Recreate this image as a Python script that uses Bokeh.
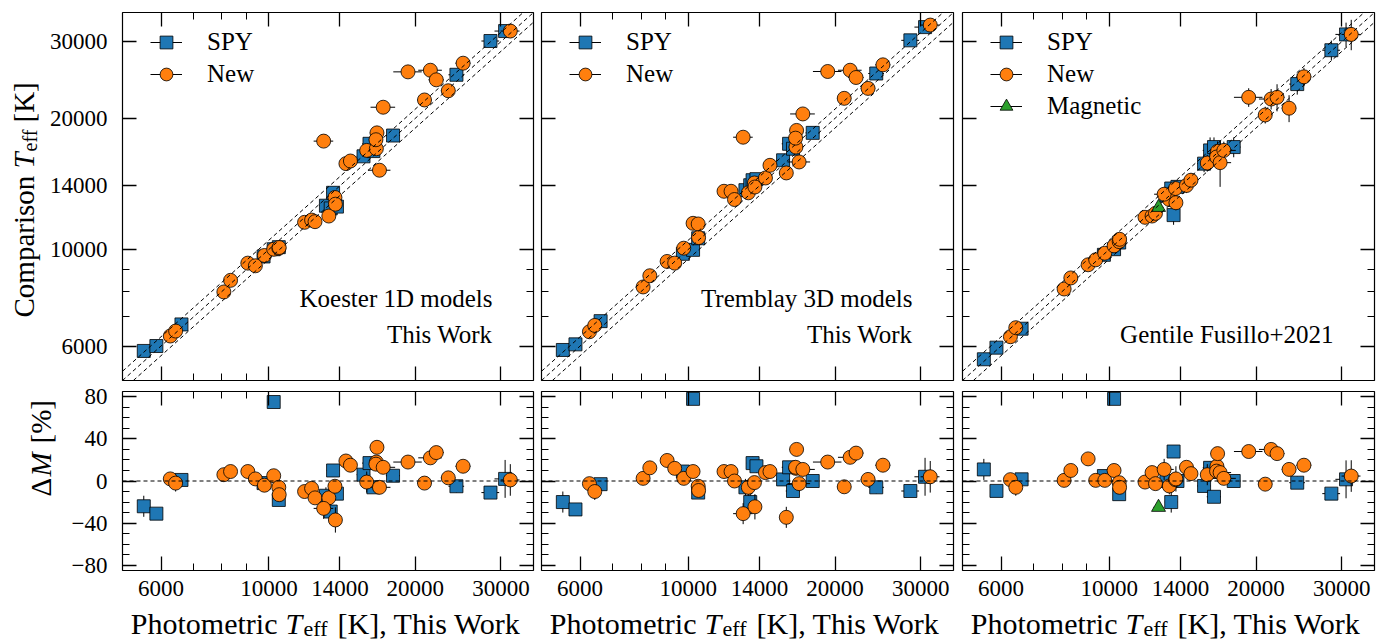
import numpy as np
from bokeh.plotting import figure
from bokeh.models import (FixedTicker, BasicTickFormatter, LogAxis, LinearAxis, Span, Slope,
                          Label, Legend, LegendItem, ColumnDataSource, Range1d)
from bokeh.layouts import row, column
from bokeh.embed import file_html
from bokeh.resources import INLINE

# ---------------- data ----------------
# photometric Teff (This Work), shared by all panels
spy_teff_phot = [5530, 5870, 6610, 9750, 10230, 10480, 13100, 13400, 13550, 13800,
                 15650, 16100, 16400, 18000, 24300, 28550, 30600]
spy_teff_phot_err = [150, 150, 200, 250, 300, 300, 400, 400, 400, 400,
                     500, 550, 550, 600, 900, 1200, 1500]
new_teff_phot = [6270, 6430, 8080, 8340, 9050, 9380, 9790, 10230, 10480, 10500,
                 11840, 12240, 12440, 13280, 12960, 13670, 13700, 14400, 14710, 15890,
                 16630, 16680, 16600, 16880, 17180, 19320, 20890, 21480, 22090, 23380,
                 25080, 31360]
new_teff_phot_err = [150, 150, 200, 200, 250, 250, 250, 300, 300, 300,
                     350, 350, 350, 400, 600, 400, 400, 450, 450, 500,
                     550, 550, 550, 900, 1000, 1300, 700, 1200, 800, 800,
                     900, 1400]
mag_teff_phot = [12620]
mag_teff_phot_err = [300]

# comparison Teff, Koester 1D (This Work)
koester_spy = [5846, 6000, 6726, 9634, 10010, 10120, 12600, 12420, 13490, 12540,
               16360, 17480, 16820, 18260, 25180, 30100, 31730]
koester_new = [6326, 6494, 7986, 8491, 9300, 9170, 9685, 10010, 10060, 10100,
               11540, 11680, 11580, 11930, 17730, 13160, 12700, 15740, 15960, 16880,
               17030, 18520, 17860, 15200, 21210, 25570, 22040, 25790, 24520, 23140,
               26770, 31730]
# comparison Teff, Tremblay 3D (This Work)
tremblay_spy = [5876, 6053, 6844, 9770, 9977, 10607, 13680, 14040, 14420, 14500,
                16020, 17480, 17030, 18520, 25350, 30210, 32400]
tremblay_new = [6470, 6690, 8200, 8700, 9383, 9300, 10065, 11480, 11440, 10645,
                13600, 13600, 13020, 13490, 18100, 14210, 13910, 14590, 15600, 14985,
                17180, 18760, 18010, 15880, 20470, 25620, 22230, 25790, 24820, 23430,
                26540, 32750]
spec_spy_err = [90, 90, 100, 150, 150, 160, 200, 200, 200, 200,
                250, 260, 260, 280, 400, 450, 500]
spec_new_err = [100, 100, 120, 130, 140, 140, 150, 160, 160, 160,
                180, 180, 180, 200, 300, 200, 200, 220, 220, 250,
                260, 260, 260, 300, 330, 400, 350, 400, 380, 360,
                420, 500]
# comparison Teff, Gentile Fusillo+2021
gf21_spy = [5594, 5948, 6575, 9718, 10012, 10370, 13300, 13800, 11990, 13920,
            15740, 16880, 17180, 17180, 23970, 28670, 31170]
gf21_new = [6303, 6610, 8112, 8600, 9220, 9465, 9800, 10190, 10420, 10550,
            11850, 11930, 12100, 13020, 13390, 13800, 12800, 14020, 14420, 15790,
            16530, 16800, 16300, 15820, 16880, 22350, 20360, 22150, 22350, 21100,
            24910, 31170]
gf21_mag = [12490]
gf21_spy_err = [150, 150, 200, 300, 300, 350, 500, 500, 600, 500,
                700, 1200, 900, 900, 1300, 1500, 2000]
gf21_new_err = [150, 200, 250, 250, 300, 300, 300, 350, 350, 350,
                400, 400, 400, 500, 500, 500, 500, 550, 550, 700,
                900, 900, 900, 1900, 800, 1100, 900, 1200, 1600, 1500,
                1200, 2500]
gf21_mag_err = [250]

# Delta M [%]
dm_koester_spy = [-24, -31, 1, -2, 75, -18, -14, -29, 10, -12, 6, 17, -6, 5, -5, -11, 2]
dm_koester_new = [2, -2, 6, 9, 9, 2, -4, 5, -6, -13, -10, -7, -16, -16, -26, -5, -37,
                  19, 15, -1, 18, 32, 16, -6, 13, 18, -2, 22, 27, 3, 14, 1]
dm_tremblay_spy = [-20, -27, -3, 9, 78, -11, -6, -20, 17, 14, 1.5, 13, -9.5, 0, -6, -9.5, 4]
dm_tremblay_new = [-2.5, -10, 2.5, 12.5, 19.5, 12, 2.5, 9, -5, -9, 9, 9, 0, -6, -31, -1.5,
                   -24.5, 8, 9, -34.5, 12, 30, 13, -2.5, 11, 18, -5.5, 22.5, 26.5, 1.5, 15, 4]
dm_gf21_spy = [11, -9.4, 1.6, 4.7, 78, -12.5, 0, -20, 28, 0, -4.7, 12.5, -15, 0, -1.6, -12, 1.6]
dm_gf21_new = [1.3, -6, 0.6, 10, 21, 0.6, 0.6, 10, -1.6, -6, -1, 8, -2.5, -4.7, 11, 1.3, 2,
               13, 7, 6, 14, 26, 9.4, 8, 2.5, 28, -3, 30, 26, 11, 15, 4.7]
dm_gf21_mag = [-25]
dm_spy_err = [10, 5, 4, 4, 5, 5, 8, 10, 6, 6, 5, 6, 5, 5, 6, 5, 18]
dm_new_err = [4, 8, 3, 3, 3, 3, 4, 4, 4, 4, 5, 5, 5, 8, 10, 6, 12, 5, 5, 10,
              5, 6, 5, 6, 5, 6, 6, 6, 6, 6, 6, 15]
dm_mag_err = [3]

# axes / ticks
T_RANGE = (5000, 35000)
DM_RANGE = (-85, 85)
t_major = [6000, 10000, 14000, 20000, 30000]
t_minor = [7000, 8000, 9000]
t_labels = ["6000", "10000", "14000", "20000", "30000"]
dm_major = [-80, -40, 0, 40, 80]
dm_minor = [-70, -60, -50, -30, -20, -10, 10, 20, 30, 50, 60, 70]
dm_labels = ["\u221280", "\u221240", "0", "40", "80"]
band_ratios = [0.95, 1.0, 1.05]

panel_notes = [["Koester 1D models", "This Work"],
               ["Tremblay 3D models", "This Work"],
               ["Gentile Fusillo+2021"]]

# ---------------- style / layout ----------------
FONT = "Liberation Serif"
BLUE, ORANGE, GREEN = "#1f77b4", "#ff7f0e", "#2ca02c"
FRAME_LEFT = [122, 541, 962]          # absolute x of each frame's left edge
FW = [411, 412, 412]
YLAB_TOP_W, YLAB_BOT_W = 46, 60
LEFT_TOP = [122 - YLAB_TOP_W, 4, 5]
LEFT_BOT = [122 - YLAB_BOT_W, 4, 5]
RIGHT = [4, 4, 13]
TOP_B, TOP_FH, TOP_BB = 12, 368, 1      # row 1: 0..381
BOT_T, BOT_FH, BOT_B = 10, 179, 37      # row 2: 381..607
XLAB_H = 34                             # row 3: 607..641
TOP_ROW_H = TOP_B + TOP_FH + TOP_BB
BOT_ROW_H = BOT_T + BOT_FH + BOT_B


def style_axis(ax, show, ticks, minor, labels, standoff):
    ax.ticker = FixedTicker(ticks=ticks, minor_ticks=minor)
    ax.formatter = BasicTickFormatter(use_scientific=False)
    ax.major_tick_in = 14
    ax.major_tick_out = 0
    ax.minor_tick_in = 7
    ax.minor_tick_out = 0
    ax.major_tick_line_width = 1.3
    ax.minor_tick_line_width = 1.0
    ax.major_tick_line_color = "black"
    ax.minor_tick_line_color = "black"
    ax.axis_line_color = None
    if show:
        ax.major_label_overrides = {t: l for t, l in zip(ticks, labels)}
        ax.major_label_text_font = FONT
        ax.major_label_text_font_size = "23px"
        ax.major_label_text_color = "black"
        ax.major_label_standoff = standoff
    else:
        ax.major_label_overrides = {t: "" for t in ticks}
        ax.major_label_text_color = None
        ax.major_label_text_alpha = 0
        ax.major_label_text_font_size = "0px"
        ax.major_label_standoff = 0


def add_text(p, x, y, text, size, italic=False, align="left", angle=0.0):
    p.add_layout(Label(x=x, y=y, x_units="screen", y_units="screen", text=text,
                       text_font=FONT, text_font_size=f"{size}px",
                       text_font_style="italic" if italic else "normal",
                       text_align=align, text_baseline="alphabetic",
                       angle=angle, text_color="black"))


def blank_fig(w, h):
    p = figure(width=w, height=h, title=None, x_range=Range1d(0, 1), y_range=Range1d(0, 1),
               x_axis_location=None, y_axis_location=None, min_border=0,
               min_border_left=0, min_border_right=0, min_border_top=0, min_border_bottom=0,
               output_backend="svg", toolbar_location=None)
    p.grid.visible = False
    p.outline_line_color = None
    p.background_fill_color = "white"
    p.border_fill_color = "white"
    return p


def draw_series(p, x, xerr, y, yerr, marker, color, size):
    x = np.asarray(x, float); xerr = np.asarray(xerr, float)
    y = np.asarray(y, float); yerr = np.asarray(yerr, float)
    h = ColumnDataSource(dict(x0=x - xerr, x1=x + xerr, y0=y, y1=y))
    v = ColumnDataSource(dict(x0=x, x1=x, y0=y - yerr, y1=y + yerr))
    rh = p.segment("x0", "y0", "x1", "y1", source=h, line_color="black", line_width=1)
    p.segment("x0", "y0", "x1", "y1", source=v, line_color="black", line_width=1)
    rm = p.scatter(x, y, marker=marker, size=size, fill_color=color,
                   line_color="black", line_width=0.8)
    return [rh, rm]


def base_fig(col, top):
    if top:
        kw = dict(y_axis_type="log", y_range=Range1d(*T_RANGE), height=TOP_ROW_H,
                  min_border_top=TOP_B, min_border_bottom=TOP_BB,
                  min_border_left=LEFT_TOP[col],
                  width=LEFT_TOP[col] + FW[col] + RIGHT[col])
    else:
        kw = dict(y_range=Range1d(*DM_RANGE), height=BOT_ROW_H,
                  min_border_top=BOT_T, min_border_bottom=BOT_B,
                  min_border_left=LEFT_BOT[col],
                  width=LEFT_BOT[col] + FW[col] + RIGHT[col])
    p = figure(title=None, x_axis_type="log", x_range=Range1d(*T_RANGE),
               min_border_right=RIGHT[col],
               output_backend="svg", toolbar_location=None, **kw)
    p.grid.visible = False
    p.outline_line_color = "black"
    p.outline_line_width = 1.2
    p.background_fill_color = "white"
    p.border_fill_color = "white"
    p.add_layout(LogAxis(), "above")
    if top:
        p.add_layout(LogAxis(), "right")
    else:
        p.add_layout(LinearAxis(), "right")
    for ax in p.xaxis:
        show = (not top) and ax in p.below
        style_axis(ax, show, t_major, t_minor, t_labels, 10)
    for ax in p.yaxis:
        show = (col == 0) and ax in p.left
        if top:
            style_axis(ax, show, t_major, t_minor, t_labels, 15)
        else:
            style_axis(ax, show, dm_major, dm_minor, dm_labels, 15)
    return p


comp_spy = [koester_spy, tremblay_spy, gf21_spy]
comp_new = [koester_new, tremblay_new, gf21_new]
comp_spy_err = [spec_spy_err, spec_spy_err, gf21_spy_err]
comp_new_err = [spec_new_err, spec_new_err, gf21_new_err]
dms_spy = [dm_koester_spy, dm_tremblay_spy, dm_gf21_spy]
dms_new = [dm_koester_new, dm_tremblay_new, dm_gf21_new]

tops, bots = [], []
for c in range(3):
    # ---- top panel ----
    p = base_fig(c, True)
    for g in band_ratios:
        p.add_layout(Slope(gradient=g, y_intercept=0, line_color="black",
                           line_dash="4 3", line_width=1))
    r_spy = draw_series(p, spy_teff_phot, spy_teff_phot_err, comp_spy[c], comp_spy_err[c],
                        "square", BLUE, 13)
    r_new = draw_series(p, new_teff_phot, new_teff_phot_err, comp_new[c], comp_new_err[c],
                        "circle", ORANGE, 14)
    items = [LegendItem(label="SPY", renderers=r_spy),
             LegendItem(label="New", renderers=r_new)]
    if c == 2:
        r_mag = draw_series(p, mag_teff_phot, mag_teff_phot_err, gf21_mag, gf21_mag_err,
                            "triangle", GREEN, 14)
        items.append(LegendItem(label="Magnetic", renderers=r_mag))
    n = len(items)
    leg = Legend(items=items, location=(28, TOP_FH - 14 - 32 * n), orientation="vertical",
                 glyph_width=32, glyph_height=32, label_height=32, spacing=0, padding=0,
                 margin=0, label_standoff=25, label_text_font=FONT,
                 label_text_font_size="25px", label_text_color="black",
                 border_line_color=None, background_fill_alpha=0)
    p.add_layout(leg)
    notes = panel_notes[c]
    ys = [82, 46] if len(notes) == 2 else [46]
    for txt, yy in zip(notes, ys):
        add_text(p, FW[c] - 41, yy, txt, 25, align="right")
    tops.append(p)

    # ---- bottom panel ----
    q = base_fig(c, False)
    q.add_layout(Span(location=0, dimension="width", line_color="black",
                      line_dash="4 3", line_width=1))
    draw_series(q, spy_teff_phot, spy_teff_phot_err, dms_spy[c], dm_spy_err, "square", BLUE, 13)
    draw_series(q, new_teff_phot, new_teff_phot_err, dms_new[c], dm_new_err, "circle", ORANGE, 14)
    if c == 2:
        draw_series(q, mag_teff_phot, mag_teff_phot_err, dm_gf21_mag, dm_mag_err,
                    "triangle", GREEN, 14)
    bots.append(q)

# ---- axis-label strips (real text with italic T and subscript) ----
A = np.pi / 2
ylab_top = blank_fig(YLAB_TOP_W, TOP_ROW_H)
add_text(ylab_top, 23, 63, "Comparison", 29, angle=A)
add_text(ylab_top, 23, 212, "T", 29, italic=True, angle=A)
add_text(ylab_top, 29, 229, "eff", 20, angle=A)
add_text(ylab_top, 23, 258, "[K]", 29, angle=A)

ylab_bot = blank_fig(YLAB_BOT_W, BOT_ROW_H)
add_text(ylab_bot, 40, 74, "\u0394", 29, angle=A)
add_text(ylab_bot, 40, 94, "M", 29, italic=True, angle=A)
add_text(ylab_bot, 40, 127, "[%]", 29, angle=A)

xlab = blank_fig(1387, XLAB_H)
for c in range(3):
    x0 = FRAME_LEFT[c]
    add_text(xlab, x0 + 155, 18, "Photometric", 30, align="right")
    add_text(xlab, x0 + 163, 18, "T", 30, italic=True)
    add_text(xlab, x0 + 181, 13, "eff", 22)
    add_text(xlab, x0 + 215, 18, "[K], This Work", 30)

layout = column(row(ylab_top, *tops, spacing=0),
                row(ylab_bot, *bots, spacing=0),
                xlab, spacing=0)
open("out.html", "w").write(file_html(layout, INLINE))
